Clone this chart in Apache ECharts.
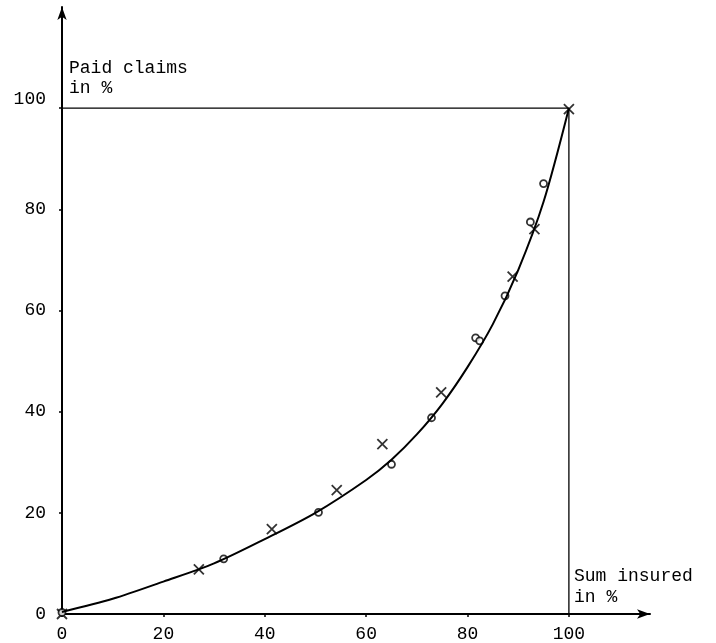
<!DOCTYPE html>
<html>
<head>
<meta charset="utf-8">
<script src="https://cdn.jsdelivr.net/npm/echarts@6/dist/echarts.min.js"></script>
<style>
html,body{margin:0;padding:0;background:#fff;}
#c{width:716px;height:643px;}
</style>
</head>
<body>
<div id="c"></div>
<script>
// Tick labels
var xTicks = [0, 20, 40, 60, 80, 100];
var yTicks = [0, 20, 40, 60, 80, 100];

// Fitted curve
var curveX = [0, 10, 20, 30, 40, 50, 60, 65, 70, 75, 80, 85, 90, 95, 100];
var curveY = [0.4, 3, 6.4, 10, 14.8, 20, 26.5, 30.5, 35.5, 41.5, 48.8, 57.3, 68, 81.5, 100];

// Observations marked with crosses
var crossX = [0, 27.0, 41.4, 54.2, 63.2, 74.8, 88.9, 93.2, 100];
var crossY = [0, 8.8, 16.8, 24.5, 33.6, 43.8, 66.7, 76.1, 99.8];

// Observations marked with circles
var circX = [0, 31.9, 50.6, 65.0, 72.9, 81.6, 82.4, 87.4, 92.4, 95.0];
var circY = [0.3, 10.9, 20.1, 29.6, 38.8, 54.6, 54.0, 62.9, 77.5, 85.1];

// Reference frame (100% / 100%)
var frameX = [0, 100, 100];
var frameY = [100, 100, 0];

function zip(a, b) { return a.map(function (v, i) { return [v, b[i]]; }); }

var FONT = 'Liberation Mono';
var chart = echarts.init(document.getElementById('c'), null, {renderer: 'canvas'});

chart.setOption({
  animation: false,
  backgroundColor: '#fff',
  grid: {left: 62, right: 66, top: 7, bottom: 29, containLabel: false},
  xAxis: {
    type: 'value', min: 0, max: 116, interval: 20,
    splitLine: {show: false},
    axisLine: {show: true, onZero: false, symbol: ['none', 'arrow'], symbolSize: [7, 13],
      lineStyle: {color: '#000', width: 2}},
    axisTick: {show: true, length: 3, customValues: xTicks, lineStyle: {color: '#000', width: 1.5}},
    axisLabel: {customValues: xTicks, color: '#000', fontFamily: FONT, fontSize: 18, margin: 11}
  },
  yAxis: {
    type: 'value', min: 0, max: 120, interval: 20,
    splitLine: {show: false},
    axisLine: {show: true, onZero: false, symbol: ['none', 'arrow'], symbolSize: [7, 13],
      lineStyle: {color: '#000', width: 2}},
    axisTick: {show: true, length: 3, customValues: yTicks, lineStyle: {color: '#000', width: 1.5}},
    axisLabel: {
      customValues: yTicks, color: '#000', fontFamily: FONT, fontSize: 18, margin: 16,
      formatter: function (v) { return v === 100 ? '{hi|100}' : String(v); },
      rich: {hi: {fontFamily: FONT, fontSize: 18, color: '#000', padding: [0, 0, 18, 0]}}
    }
  },
  graphic: [
    {type: 'text', left: 69, top: 58, silent: true,
      style: {text: 'Paid claims\nin %', fontFamily: FONT, fontSize: 18, lineHeight: 20, fill: '#000'}},
    {type: 'text', left: 574, top: 566, silent: true,
      style: {text: 'Sum insured\nin %', fontFamily: FONT, fontSize: 18, lineHeight: 21, fill: '#000'}}
  ],
  series: [
    {
      type: 'line', data: zip(frameX, frameY), symbol: 'none', silent: true,
      lineStyle: {color: '#000', width: 1.3}
    },
    {
      type: 'line', data: zip(curveX, curveY), symbol: 'none', smooth: 0.3, silent: true,
      lineStyle: {color: '#000', width: 2}
    },
    {
      type: 'scatter', data: zip(crossX, crossY),
      symbol: 'path://M0 0L10 10M10 0L0 10', symbolSize: 10,
      itemStyle: {color: 'rgba(0,0,0,0)', borderColor: '#000', borderWidth: 1.8}
    },
    {
      type: 'scatter', data: zip(circX, circY),
      symbol: 'circle', symbolSize: 7,
      itemStyle: {color: '#fff', borderColor: '#000', borderWidth: 1.8}
    }
  ]
});
</script>
</body>
</html>
